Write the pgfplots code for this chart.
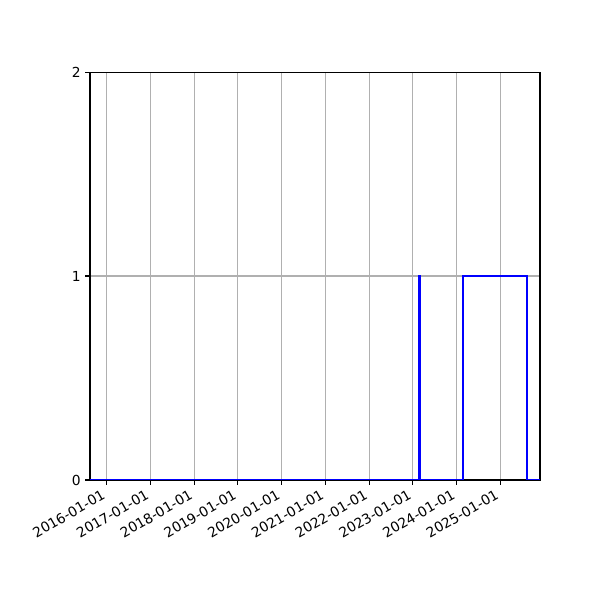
\documentclass[border=0pt]{standalone}
\usepackage{pgfplots}
\pgfplotsset{compat=1.18}
\usepackage{fontspec}
\setmainfont{DejaVu Sans}
\definecolor{gridgray}{HTML}{B0B0B0}
\begin{document}
\begin{tikzpicture}
\path[use as bounding box] (-65.04pt,-86.72pt) rectangle (368.6pt,346.9pt);
\begin{axis}[
  at={(0,0)}, anchor=south west,
  scale only axis,
  width=325.2pt, height=294.8pt,
  xmin=2015.618, xmax=2025.908,
  ymin=0, ymax=2,
  xtick={2016,2017,2018,2019,2020,2021,2022,2023,2024,2025},
  xticklabels={2016-01-01,2017-01-01,2018-01-01,2019-01-01,2020-01-01,2021-01-01,2022-01-01,2023-01-01,2024-01-01,2025-01-01},
  ytick={0,1,2},
  xtick pos=bottom, ytick pos=left,
  tick align=outside,
  major tick length=3.5pt,
  every tick/.style={black, line width=0.8pt},
  axis line style={line width=0.8pt},
  xmajorgrids, ymajorgrids,
  major grid style={gridgray, line width=0.8pt},
  /pgf/number format/assume math mode=true,
  tick label style={font=\fontsize{10}{12}\selectfont},
  xticklabel style={rotate=30, anchor=north east, inner sep=2pt, xshift=-3pt, yshift=1.5pt},
  yticklabel style={inner sep=2pt, xshift=-1pt},
]
\addplot[blue, line width=1.5pt, mark=none] coordinates {
  (2015.618,0) (2023.14,0) (2023.14,1) (2023.16,1) (2023.16,0)
  (2024.155,0) (2024.155,1) (2025.611,1) (2025.611,0) (2025.908,0)
};
\end{axis}
\end{tikzpicture}
\end{document}
